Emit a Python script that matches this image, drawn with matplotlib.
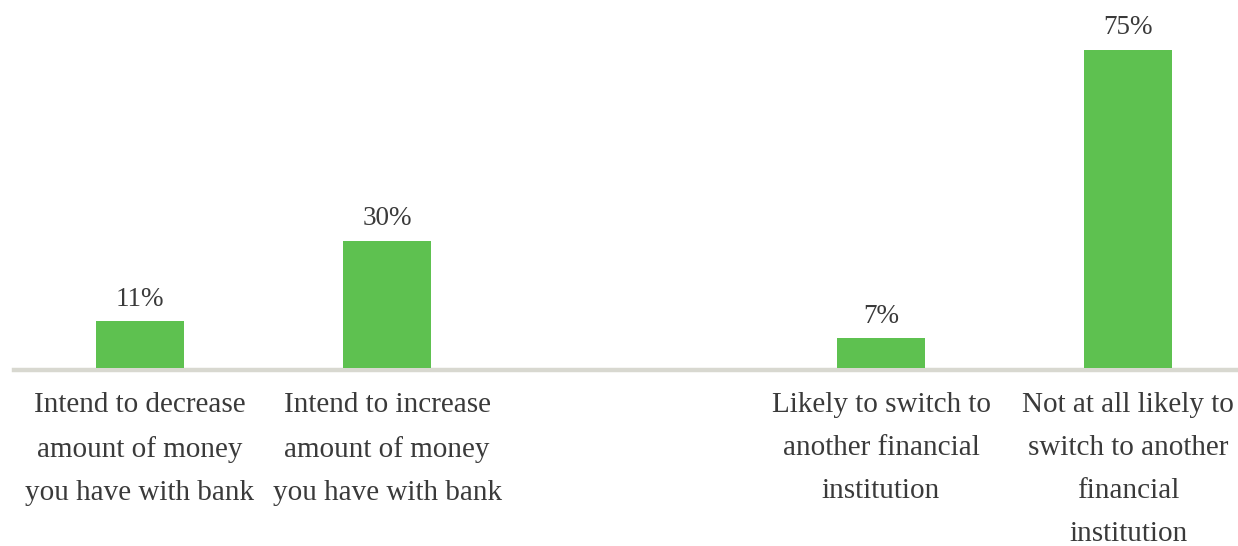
import matplotlib
matplotlib.use("Agg")
import matplotlib.pyplot as plt

categories = [
    "Intend to decrease\namount of money\nyou have with bank",
    "Intend to increase\namount of money\nyou have with bank",
    "",
    "Likely to switch to\nanother financial\ninstitution",
    "Not at all likely to\nswitch to another\nfinancial\ninstitution",
]
values = [11, 30, None, 7, 75]
value_labels = ["11%", "30%", "", "7%", "75%"]

W, H = 1238, 546
fig = plt.figure(figsize=(W / 100, H / 100), dpi=100)
ax = fig.add_axes([14 / W, 178 / H, 1224 / W, 368 / H])

xs = [i for i, v in enumerate(values) if v is not None]
vs = [v for v in values if v is not None]
ax.bar(xs, vs, width=0.356, color="#5ec150", zorder=3)
ax.set_xlim(-0.51, 4.445)
ax.set_ylim(0, 86.8)

ax.axhline(-0.45, color="#d8d8d0", linewidth=3.2, zorder=2, clip_on=False)

font = "Liberation Serif"
for i, v in enumerate(values):
    if v is None:
        continue
    ax.annotate(value_labels[i], (i, v), xytext=(0, 7), textcoords="offset points",
                ha="center", va="bottom", fontsize=19.5, family=font, color="#3a3a3a")

for i, lab in enumerate(categories):
    if not lab:
        continue
    ax.text(i, -5.6, lab, ha="center", va="top", fontsize=21, family=font,
            color="#3a3a3a", linespacing=1.85, clip_on=False)

ax.set_xticks([])
ax.set_yticks([])
for s in ax.spines.values():
    s.set_visible(False)

fig.savefig("out.png", dpi=100)
